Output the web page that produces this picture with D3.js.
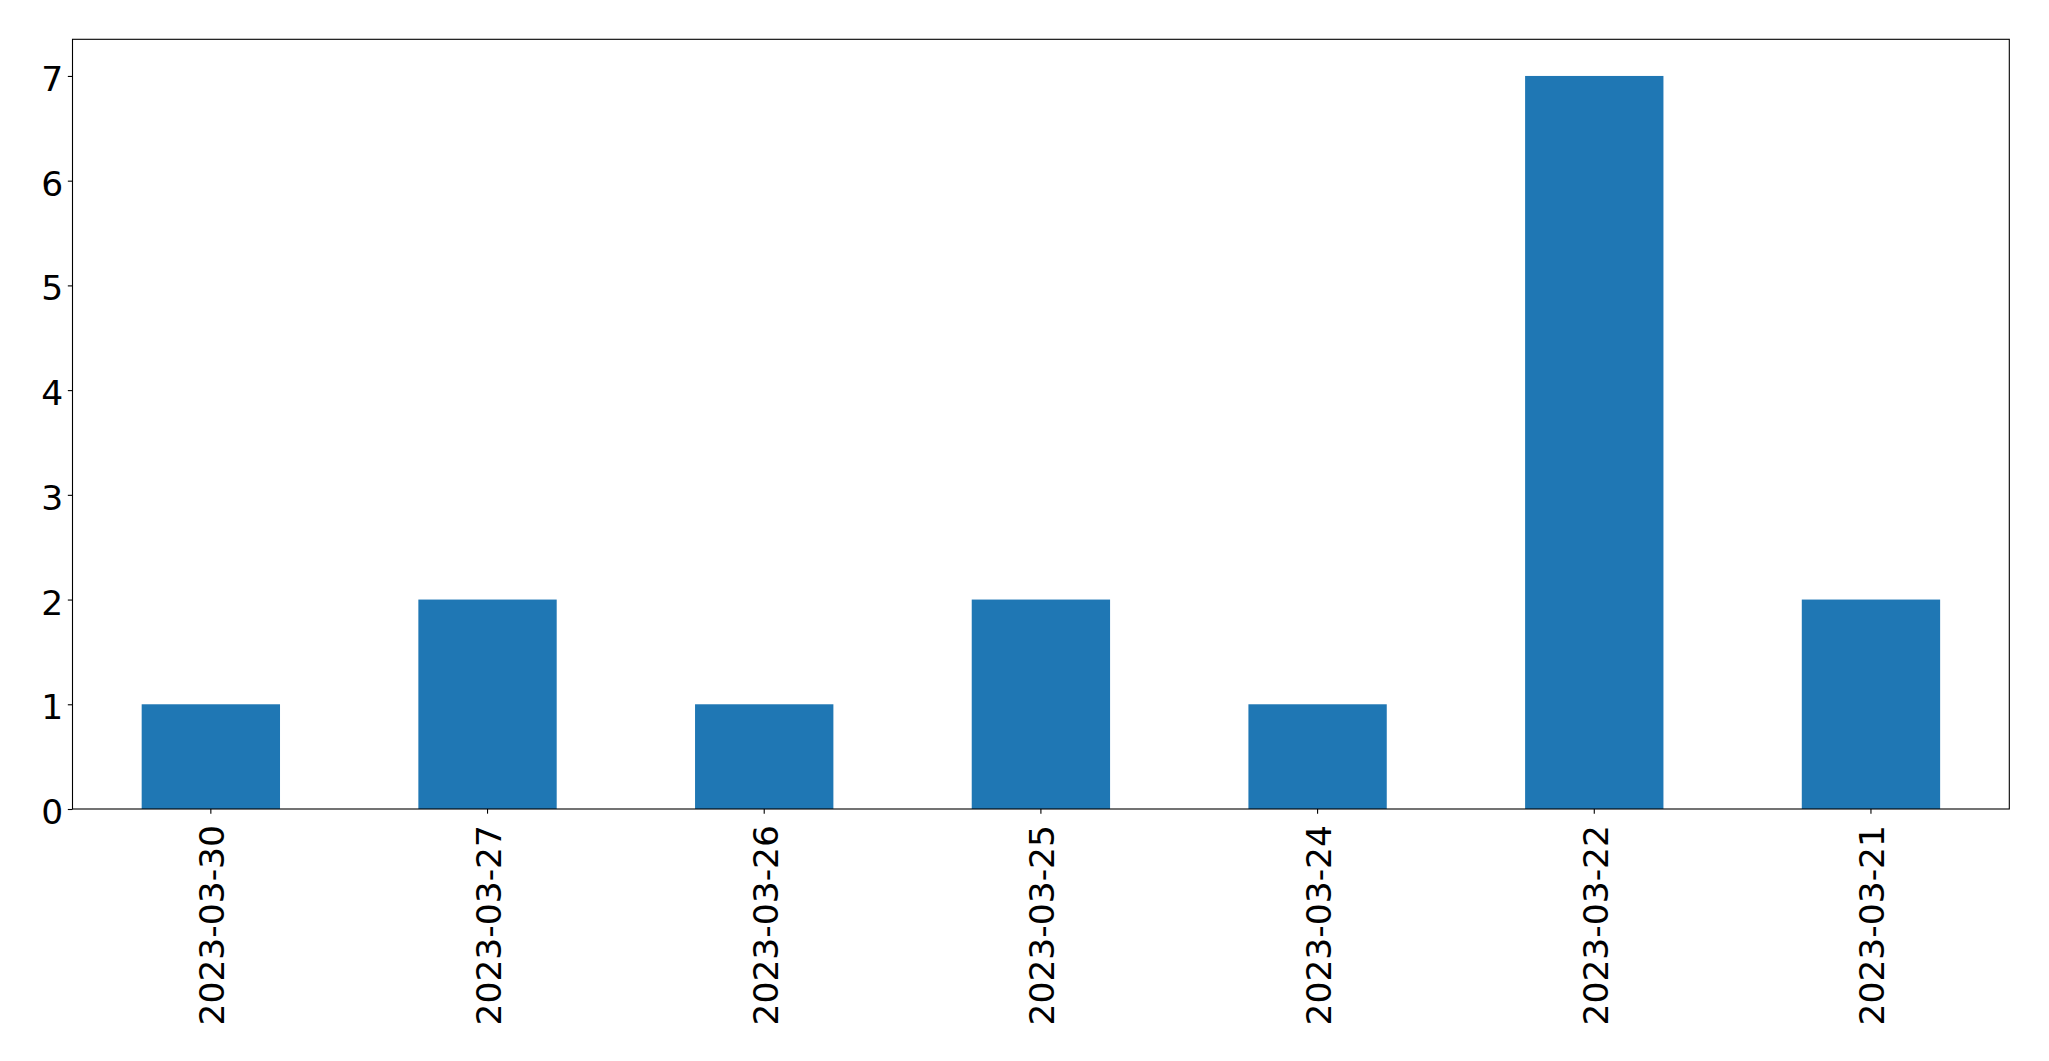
<!DOCTYPE html>
<html>
<head>
<meta charset="utf-8">
<script src="https://cdn.jsdelivr.net/npm/d3@7"></script>
<style>
  html, body { margin: 0; padding: 0; background: #fff; }
  svg { display: block; }
  text { font-family: "DejaVu Sans", sans-serif; fill: #000; }
</style>
</head>
<body>
<svg id="chart" width="2049" height="1061"></svg>
<script>
const categories = ["2023-03-30", "2023-03-27", "2023-03-26", "2023-03-25", "2023-03-24", "2023-03-22", "2023-03-21"];
const values = [1, 2, 1, 2, 1, 7, 2];
const yTicks = [0, 1, 2, 3, 4, 5, 6, 7];

const W = 2049, H = 1061;
const mLeft = 72.5, mRight = 2009.3, mTop = 39.3, mBottom = 809;
const svg = d3.select("#chart");

const x = d3.scaleBand().domain(categories).range([mLeft, mRight]).paddingInner(0.5).paddingOuter(0.25);
const y = d3.scaleLinear().domain([0, 7.35]).range([mBottom, mTop]);

svg.append("g").selectAll("rect").data(values).join("rect")
  .attr("x", (d, i) => x(categories[i]))
  .attr("width", x.bandwidth())
  .attr("y", d => y(d))
  .attr("height", d => y(0) - y(d))
  .attr("fill", "#1f77b4");

// frame
svg.append("rect").attr("x", mLeft).attr("y", mTop)
  .attr("width", mRight - mLeft).attr("height", mBottom - mTop)
  .attr("fill", "none").attr("stroke", "#000").attr("stroke-width", 1.1);

const fs = 34.5;
const yAxis = d3.axisLeft(y).tickValues(yTicks).tickFormat(d3.format("d")).tickSize(4.67).tickPadding(4.67);
const gy = svg.append("g").attr("transform", `translate(${mLeft},0)`).call(yAxis);
gy.select(".domain").remove();
gy.selectAll(".tick line").attr("stroke", "#000").attr("stroke-width", 1.1);
gy.selectAll(".tick text").attr("font-size", fs).attr("font-family", "DejaVu Sans").attr("dy", "14.5px").attr("fill", "#000");

const xAxis = d3.axisBottom(x).tickSize(4.67).tickPadding(0);
const gx = svg.append("g").attr("transform", `translate(0,${mBottom})`).call(xAxis);
gx.select(".domain").remove();
gx.selectAll(".tick line").attr("stroke", "#000").attr("stroke-width", 1.1);
gx.selectAll(".tick text")
  .attr("font-size", fs).attr("font-family", "DejaVu Sans").attr("fill", "#000")
  .attr("text-anchor", "end")
  .attr("transform", "rotate(-90)")
  .attr("x", -16)
  .attr("y", 0)
  .attr("dy", "13.5px");
</script>
</body>
</html>
